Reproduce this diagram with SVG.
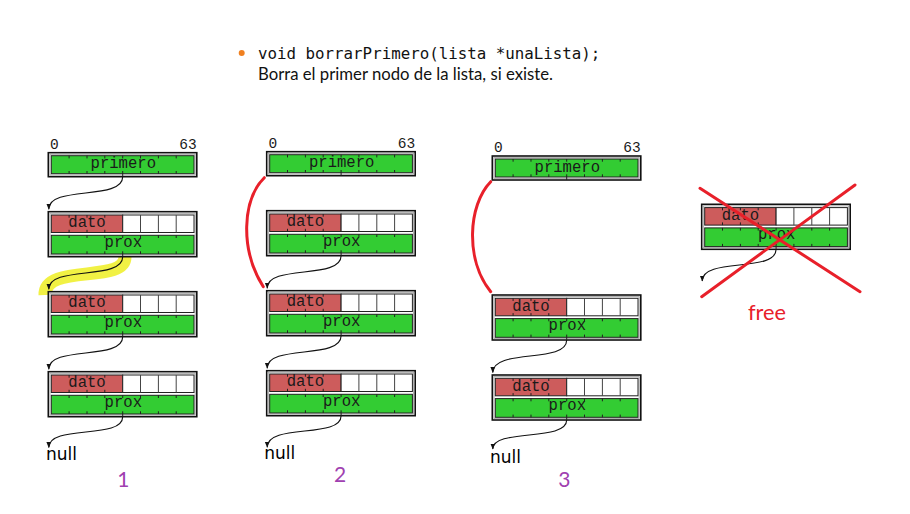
<svg xmlns="http://www.w3.org/2000/svg" xmlns:xlink="http://www.w3.org/1999/xlink" width="910" height="514" viewBox="0 0 910 514">
<style>
.mono{font-family:"Liberation Mono","DejaVu Sans Mono",monospace;fill:#1a1a1a;}
.fld{font-size:15.6px;}
.bit{font-size:14.5px;}
.null{font-family:"DejaVu Sans",sans-serif;font-size:17px;fill:#000;}
.num{font-family:Lato,"Open Sans",sans-serif;font-size:21px;fill:#a040b0;}
.arrow{fill:none;stroke:#111;stroke-width:1.1;marker-end:url(#ah);}
.red{fill:none;stroke:#e8202a;stroke-width:3;stroke-linecap:round;}
.tick{stroke:#222;stroke-width:1;}
.cell{stroke:#444;stroke-width:1;}
</style>
<defs>
<marker id="ah" markerUnits="userSpaceOnUse" markerWidth="6" markerHeight="6" viewBox="0 0 6 6" refX="5.5" refY="3" orient="auto">
<path d="M0,0.6 L6,3 L0,5.4 Z" fill="#111"/>
</marker>
<g id="primShape">
<rect x="0" y="0" width="148.5" height="24" fill="#fff" stroke="#111" stroke-width="1.6"/>
<rect x="1.6" y="1.6" width="145.3" height="20.8" fill="none" stroke="#aaa" stroke-width="1"/>
<rect x="3" y="3" width="142.7" height="18" fill="#33cc33" stroke="#222" stroke-width="1"/>
<path class="tick" d="M20.8,3v2.7M38.7,3v2.7M56.5,3v2.7M74.4,3v2.7M92.2,3v2.7M110.1,3v2.7M127.9,3v2.7M20.8,21v-2.7M38.7,21v-2.7M56.5,21v-2.7M74.4,24v-5.7M92.2,21v-2.7M110.1,21v-2.7M127.9,21v-2.7"/>
</g>
<g id="nodeShape">
<rect x="0" y="0" width="148.5" height="45" fill="#fff" stroke="#111" stroke-width="1.6"/>
<rect x="1.6" y="1.6" width="145.3" height="41.8" fill="none" stroke="#aaa" stroke-width="1"/>
<rect x="3" y="3.3" width="71.4" height="17.5" fill="#cd5c5c" stroke="#222" stroke-width="1"/>
<rect x="74.4" y="3.3" width="71.3" height="17.5" fill="#fff" stroke="#222" stroke-width="1"/>
<path class="cell" d="M92.2,3.3v17.5M110.1,3.3v17.5M127.9,3.3v17.5"/>
<path class="tick" d="M20.8,3.3v2.7M38.7,3.3v2.7M56.5,3.3v2.7M20.8,20.8v-2.7M38.7,20.8v-2.7M56.5,20.8v-2.7"/>
<rect x="3" y="23.6" width="142.7" height="18.7" fill="#33cc33" stroke="#222" stroke-width="1"/>
<path class="tick" d="M20.8,23.6v2.7M38.7,23.6v2.7M56.5,23.6v2.7M74.4,23.6v2.7M92.2,23.6v2.7M110.1,23.6v2.7M127.9,23.6v2.7M20.8,42.3v-2.7M38.7,42.3v-2.7M56.5,42.3v-2.7M74.4,45v-5.4M92.2,42.3v-2.7M110.1,42.3v-2.7M127.9,42.3v-2.7"/>
</g>
</defs>

<g id="header">
<circle cx="241.7" cy="53" r="3" fill="#f08020"/>
<text x="258" y="59" style="font-family:'DejaVu Sans Mono',monospace;font-size:15.8px;fill:#111">void borrarPrimero(lista *unaLista);</text>
<text x="258" y="80" textLength="295" lengthAdjust="spacingAndGlyphs" style="font-family:Lato,'Open Sans',sans-serif;font-size:16.5px;fill:#111">Borra el primer nodo de la lista, si existe.</text>
</g>

<g id="highlight">
<path d="M125,257 C125,284 44,263 45,295" fill="none" stroke="#f0f030" stroke-width="13" opacity="0.9"/>
</g>

<!-- Column 1 -->
<g id="c1-primero" transform="translate(48.3,152.7)">
<use xlink:href="#primShape"/>
<text class="mono bit" x="1.7" y="-3.7">0</text>
<text class="mono bit" x="148.4" y="-3.7" text-anchor="end">63</text>
<text class="mono fld" x="75" y="15.6" text-anchor="middle">primero</text>
</g>
<g id="c1-nodo1" transform="translate(48.3,211.7)">
<use xlink:href="#nodeShape"/>
<text class="mono fld" x="38.7" y="15.6" text-anchor="middle">dato</text>
<text class="mono fld" x="75" y="35" text-anchor="middle">prox</text>
</g>
<g id="c1-nodo2" transform="translate(48.3,291.7)">
<use xlink:href="#nodeShape"/>
<text class="mono fld" x="38.7" y="15.6" text-anchor="middle">dato</text>
<text class="mono fld" x="75" y="35" text-anchor="middle">prox</text>
</g>
<g id="c1-nodo3" transform="translate(48.3,371.7)">
<use xlink:href="#nodeShape"/>
<text class="mono fld" x="38.7" y="15.6" text-anchor="middle">dato</text>
<text class="mono fld" x="75" y="35" text-anchor="middle">prox</text>
</g>
<g id="c1-null"><text class="null" x="46" y="460">null</text></g>
<g id="c1-label"><text class="num" x="123.3" y="486.7" text-anchor="middle">1</text></g>

<!-- Column 2 -->
<g id="c2-primero" transform="translate(266.7,151.7)">
<use xlink:href="#primShape"/>
<text class="mono bit" x="1.7" y="-3.7">0</text>
<text class="mono bit" x="148.4" y="-3.7" text-anchor="end">63</text>
<text class="mono fld" x="75" y="15.6" text-anchor="middle">primero</text>
</g>
<g id="c2-nodo1" transform="translate(266.7,210.7)">
<use xlink:href="#nodeShape"/>
<text class="mono fld" x="38.7" y="15.6" text-anchor="middle">dato</text>
<text class="mono fld" x="75" y="35" text-anchor="middle">prox</text>
</g>
<g id="c2-nodo2" transform="translate(266.7,290.7)">
<use xlink:href="#nodeShape"/>
<text class="mono fld" x="38.7" y="15.6" text-anchor="middle">dato</text>
<text class="mono fld" x="75" y="35" text-anchor="middle">prox</text>
</g>
<g id="c2-nodo3" transform="translate(266.7,370.7)">
<use xlink:href="#nodeShape"/>
<text class="mono fld" x="38.7" y="15.6" text-anchor="middle">dato</text>
<text class="mono fld" x="75" y="35" text-anchor="middle">prox</text>
</g>
<g id="c2-null"><text class="null" x="264.3" y="459.3">null</text></g>
<g id="c2-label"><text class="num" x="340" y="481.7" text-anchor="middle">2</text></g>

<!-- Column 3 -->
<g id="c3-primero" transform="translate(492.3,156)">
<use xlink:href="#primShape"/>
<text class="mono bit" x="1.7" y="-3.7">0</text>
<text class="mono bit" x="148.4" y="-3.7" text-anchor="end">63</text>
<text class="mono fld" x="75" y="15.6" text-anchor="middle">primero</text>
</g>
<g id="c3-nodo2" transform="translate(492.3,295)">
<use xlink:href="#nodeShape"/>
<text class="mono fld" x="38.7" y="15.6" text-anchor="middle">dato</text>
<text class="mono fld" x="75" y="35" text-anchor="middle">prox</text>
</g>
<g id="c3-nodo3" transform="translate(492.3,375)">
<use xlink:href="#nodeShape"/>
<text class="mono fld" x="38.7" y="15.6" text-anchor="middle">dato</text>
<text class="mono fld" x="75" y="35" text-anchor="middle">prox</text>
</g>
<g id="c3-null"><text class="null" x="490" y="463.3">null</text></g>
<g id="c3-label"><text class="num" x="564.3" y="486.7" text-anchor="middle">3</text></g>

<!-- Freed node -->
<g id="freed-nodo" transform="translate(701.7,204.3)">
<use xlink:href="#nodeShape"/>
<text class="mono fld" x="38.7" y="15.6" text-anchor="middle">dato</text>
<text class="mono fld" x="75" y="35" text-anchor="middle">prox</text>
</g>

<g id="connectors">
<path class="arrow" d="M122.7,176.7 C122.7,201 48.8,185 48.8,209.2"/>
<path class="arrow" d="M122.7,256.7 C122.7,281 48.8,265 48.8,289.2"/>
<path class="arrow" d="M122.7,336.7 C122.7,361 48.8,345 48.8,369.2"/>
<path class="arrow" d="M122.7,416.7 C122.7,440 48.8,424 48.8,447.5"/>

<path class="arrow" d="M341.1,255.7 C341.1,280 267.2,264 267.2,288.2"/>
<path class="arrow" d="M341.1,335.7 C341.1,360 267.2,344 267.2,368.2"/>
<path class="arrow" d="M341.1,415.7 C341.1,439 267.2,423 267.2,447.3"/>

<path class="arrow" d="M566.7,340 C566.7,364 492.8,348 492.8,372.5"/>
<path class="arrow" d="M566.7,420 C566.7,442 492.8,428 492.8,449"/>

<path class="arrow" d="M776.1,249.3 C776.1,273 702.2,257 702.2,281"/>

<path class="red" d="M264.3,177.7 C242,200 240,250 263.3,286.7"/>
<path class="red" d="M490.7,181.7 C468,205 465,260 490.7,291.7"/>
</g>

<g id="freed-mark">
<line class="red" x1="700" y1="188.3" x2="860" y2="291.7"/>
<line class="red" x1="855" y1="185" x2="701.7" y2="296.7"/>
<text x="748" y="320" textLength="38" lengthAdjust="spacingAndGlyphs" style="font-family:Lato,'Open Sans',sans-serif;font-size:21px;fill:#e8202a">free</text>
</g>
</svg>
